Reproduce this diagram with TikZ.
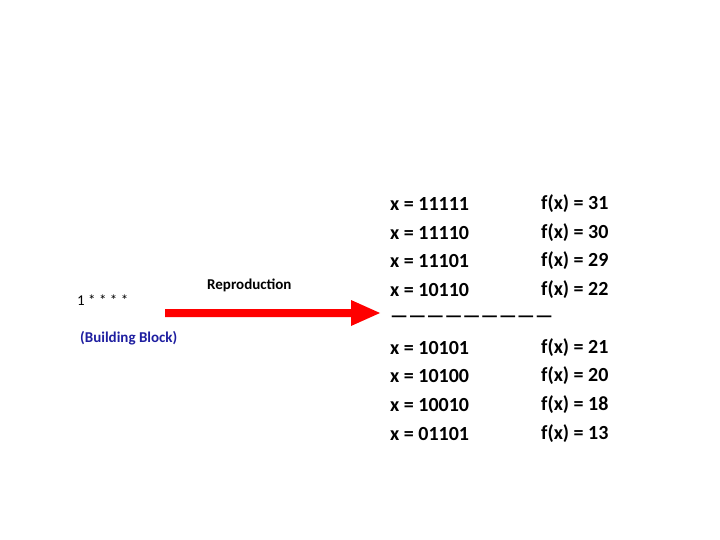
\documentclass[tikz,border=0pt]{standalone}
\usepackage{fontspec}
\setmainfont{Carlito}
\definecolor{bb}{RGB}{30,30,160}
\begin{document}
\begin{tikzpicture}[x=1pt,y=-1pt,
  tbl/.style={anchor=west,inner sep=0,font=\fontsize{20}{24}\selectfont\bfseries},
  lbl/.style={inner sep=0,font=\fontsize{15}{18}\selectfont}]
\useasboundingbox (0,0) rectangle (720,540);
\node[lbl,anchor=west] (bs) at (77,300) {1 * * * *};
\node[lbl,anchor=west,text=bb,font=\fontsize{15}{18}\selectfont\bfseries] (bb) at (80,338) {(Building Block)};
\node[lbl,anchor=west,font=\fontsize{15}{18}\selectfont\bfseries] (rep) at (207,285) {Reproduction};
\coordinate (a1) at (165,313);
\coordinate (a2) at (350,313);
\coordinate (a3) at (380,313);
\fill[red] (165,309) -- (351,309) -- (351,300) -- (380,313) -- (351,326) -- (351,317) -- (165,317) -- cycle;
\foreach \y/\a/\b [count=\i] in {204/11111/31,233/11110/30,261/11101/29,290/10110/22,348/10101/21,376/10100/20,405/10010/18,434/01101/13}{
  \node[tbl] (x\i) at (390,\y) {x = \a};
  \node[tbl] (f\i) at (541,\y) {f(x) = \b};
}
\node[tbl] (dash) at (390,319) {---------------------------};
\end{tikzpicture}
\end{document}
